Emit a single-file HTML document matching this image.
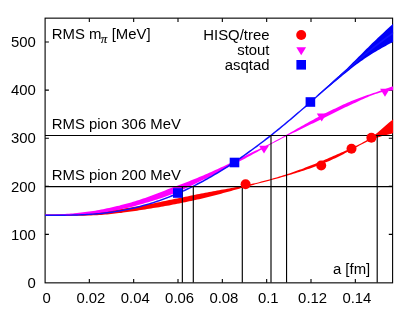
<!DOCTYPE html>
<html><head><meta charset="utf-8"><title>RMS pion mass</title>
<style>html,body{margin:0;padding:0;background:#fff;}body{width:415px;height:313px;overflow:hidden;position:relative;font-family:"Liberation Sans",sans-serif;}</style></head>
<body>
<svg width="415" height="313" viewBox="0 0 415 313" style="position:absolute;left:0;top:0;will-change:transform">
<rect width="415" height="313" fill="#fff"/>
<defs><clipPath id="c"><rect x="45" y="18" width="348.2" height="264.5"/></clipPath></defs>
<g stroke="#000" stroke-width="1.1" fill="none">
<rect x="45.1" y="18.15" width="347.5" height="264.7"/>
<path d="M89.33,282.85v-3.8M89.33,18.15v3.8M133.67,282.85v-3.8M133.67,18.15v3.8M178.00,282.85v-3.8M178.00,18.15v3.8M222.34,282.85v-3.8M222.34,18.15v3.8M266.67,282.85v-3.8M266.67,18.15v3.8M311.00,282.85v-3.8M311.00,18.15v3.8M355.34,282.85v-3.8M355.34,18.15v3.8M45.1,234.40h3.8M392.6,234.40h-3.8M45.1,186.30h3.8M392.6,186.30h-3.8M45.1,138.20h3.8M392.6,138.20h-3.8M45.1,90.10h3.8M392.6,90.10h-3.8M45.1,42.00h3.8M392.6,42.00h-3.8"/>
</g>
<g clip-path="url(#c)">
<path d="M45.0,214.58 L47.0,214.57 L49.0,214.56 L51.0,214.54 L53.0,214.51 L55.0,214.48 L57.0,214.45 L59.0,214.40 L61.0,214.36 L63.0,214.30 L65.0,214.24 L67.0,214.17 L69.0,214.09 L71.0,214.00 L73.0,213.90 L75.0,213.79 L77.0,213.67 L79.0,213.54 L81.0,213.40 L83.0,213.24 L85.0,213.08 L87.0,212.90 L89.1,212.71 L91.1,212.52 L93.1,212.31 L95.1,212.10 L97.1,211.89 L99.1,211.67 L101.1,211.44 L103.1,211.21 L105.1,210.98 L107.1,210.74 L109.1,210.50 L111.1,210.25 L113.1,210.00 L115.1,209.74 L117.1,209.47 L119.1,209.19 L121.1,208.91 L123.1,208.63 L125.1,208.33 L127.1,208.03 L129.1,207.72 L131.1,207.40 L133.1,207.08 L135.1,206.75 L137.1,206.41 L139.1,206.07 L141.1,205.72 L143.1,205.36 L145.1,204.99 L147.1,204.61 L149.1,204.23 L151.1,203.83 L153.1,203.43 L155.1,203.02 L157.1,202.60 L159.1,202.18 L161.1,201.75 L163.1,201.33 L165.1,200.91 L167.1,200.49 L169.1,200.07 L171.1,199.66 L173.1,199.25 L175.1,198.84 L177.2,198.43 L179.2,198.03 L181.2,197.62 L183.2,197.21 L185.2,196.79 L187.2,196.38 L189.2,195.97 L191.2,195.56 L193.2,195.14 L195.2,194.73 L197.2,194.33 L199.2,193.93 L201.2,193.53 L203.2,193.14 L205.2,192.76 L207.2,192.38 L209.2,192.01 L211.2,191.65 L213.2,191.29 L215.2,190.93 L217.2,190.58 L219.2,190.22 L221.2,189.87 L223.2,189.51 L225.2,189.16 L227.2,188.80 L229.2,188.45 L231.2,188.09 L233.2,187.74 L235.2,187.37 L237.2,187.01 L239.2,186.64 L241.2,186.25 L243.2,185.85 L245.2,185.44 L247.2,185.01 L249.2,184.56 L251.2,184.10 L253.2,183.62 L255.2,183.14 L257.2,182.64 L259.2,182.14 L261.2,181.62 L263.3,181.10 L265.3,180.57 L267.3,180.04 L269.3,179.49 L271.3,178.94 L273.3,178.37 L275.3,177.79 L277.3,177.21 L279.3,176.61 L281.3,176.00 L283.3,175.37 L285.3,174.73 L287.3,174.08 L289.3,173.41 L291.3,172.73 L293.3,172.03 L295.3,171.32 L297.3,170.60 L299.3,169.87 L301.3,169.13 L303.3,168.38 L305.3,167.62 L307.3,166.85 L309.3,166.08 L311.3,165.29 L313.3,164.50 L315.3,163.69 L317.3,162.88 L319.3,162.05 L321.3,161.22 L323.3,160.38 L325.3,159.52 L327.3,158.66 L329.3,157.79 L331.3,156.92 L333.3,156.05 L335.3,155.17 L337.3,154.30 L339.3,153.44 L341.3,152.58 L343.3,151.71 L345.3,150.85 L347.3,149.97 L349.3,149.08 L351.4,148.16 L353.4,147.22 L355.4,146.25 L357.4,145.25 L359.4,144.22 L361.4,143.16 L363.4,142.06 L365.4,140.92 L367.4,139.73 L369.4,138.47 L371.4,137.14 L373.4,135.73 L375.4,134.24 L377.4,132.67 L379.4,131.04 L381.4,129.34 L383.4,127.61 L385.4,125.85 L387.4,124.09 L389.4,122.36 L391.4,120.69 L393.4,119.11 L393.4,133.10 L391.4,133.76 L389.4,134.34 L387.4,134.86 L385.4,135.35 L383.4,135.85 L381.4,136.36 L379.4,136.91 L377.4,137.51 L375.4,138.18 L373.4,138.91 L371.4,139.71 L369.4,140.57 L367.4,141.50 L365.4,142.47 L363.4,143.48 L361.4,144.52 L359.4,145.57 L357.4,146.63 L355.4,147.70 L353.4,148.78 L351.4,149.87 L349.3,150.95 L347.3,152.04 L345.3,153.12 L343.3,154.18 L341.3,155.22 L339.3,156.24 L337.3,157.23 L335.3,158.19 L333.3,159.11 L331.3,160.02 L329.3,160.89 L327.3,161.75 L325.3,162.58 L323.3,163.40 L321.3,164.20 L319.3,164.99 L317.3,165.75 L315.3,166.51 L313.3,167.25 L311.3,167.97 L309.3,168.67 L307.3,169.37 L305.3,170.05 L303.3,170.71 L301.3,171.36 L299.3,172.00 L297.3,172.62 L295.3,173.23 L293.3,173.83 L291.3,174.43 L289.3,175.01 L287.3,175.60 L285.3,176.17 L283.3,176.75 L281.3,177.32 L279.3,177.89 L277.3,178.45 L275.3,179.01 L273.3,179.57 L271.3,180.12 L269.3,180.66 L267.3,181.20 L265.3,181.74 L263.3,182.27 L261.2,182.80 L259.2,183.32 L257.2,183.84 L255.2,184.36 L253.2,184.88 L251.2,185.40 L249.2,185.92 L247.2,186.45 L245.2,186.98 L243.2,187.53 L241.2,188.08 L239.2,188.64 L237.2,189.21 L235.2,189.77 L233.2,190.34 L231.2,190.90 L229.2,191.46 L227.2,192.01 L225.2,192.56 L223.2,193.10 L221.2,193.64 L219.2,194.18 L217.2,194.71 L215.2,195.23 L213.2,195.76 L211.2,196.27 L209.2,196.78 L207.2,197.28 L205.2,197.77 L203.2,198.24 L201.2,198.71 L199.2,199.17 L197.2,199.62 L195.2,200.06 L193.2,200.50 L191.2,200.93 L189.2,201.35 L187.2,201.77 L185.2,202.19 L183.2,202.60 L181.2,203.01 L179.2,203.42 L177.2,203.83 L175.1,204.23 L173.1,204.62 L171.1,205.01 L169.1,205.38 L167.1,205.75 L165.1,206.11 L163.1,206.46 L161.1,206.80 L159.1,207.13 L157.1,207.46 L155.1,207.79 L153.1,208.11 L151.1,208.43 L149.1,208.75 L147.1,209.07 L145.1,209.39 L143.1,209.71 L141.1,210.02 L139.1,210.33 L137.1,210.64 L135.1,210.94 L133.1,211.23 L131.1,211.53 L129.1,211.81 L127.1,212.09 L125.1,212.36 L123.1,212.62 L121.1,212.88 L119.1,213.12 L117.1,213.36 L115.1,213.59 L113.1,213.81 L111.1,214.02 L109.1,214.21 L107.1,214.40 L105.1,214.57 L103.1,214.74 L101.1,214.88 L99.1,215.02 L97.1,215.14 L95.1,215.25 L93.1,215.35 L91.1,215.43 L89.1,215.50 L87.0,215.57 L85.0,215.63 L83.0,215.68 L81.0,215.72 L79.0,215.76 L77.0,215.80 L75.0,215.83 L73.0,215.85 L71.0,215.88 L69.0,215.89 L67.0,215.90 L65.0,215.91 L63.0,215.91 L61.0,215.91 L59.0,215.90 L57.0,215.89 L55.0,215.88 L53.0,215.87 L51.0,215.86 L49.0,215.84 L47.0,215.83 L45.0,215.82Z" fill="#ff0000"/>
<path d="M45.0,214.58 L47.0,214.56 L49.0,214.54 L51.0,214.51 L53.0,214.46 L55.0,214.41 L57.0,214.34 L59.0,214.27 L61.0,214.18 L63.0,214.08 L65.0,213.97 L67.0,213.85 L69.0,213.71 L71.0,213.56 L73.0,213.40 L75.0,213.23 L77.0,213.04 L79.0,212.83 L81.0,212.61 L83.0,212.37 L85.0,212.12 L87.0,211.85 L89.1,211.57 L91.1,211.27 L93.1,210.95 L95.1,210.63 L97.1,210.28 L99.1,209.93 L101.1,209.56 L103.1,209.18 L105.1,208.78 L107.1,208.37 L109.1,207.95 L111.1,207.51 L113.1,207.06 L115.1,206.60 L117.1,206.12 L119.1,205.63 L121.1,205.12 L123.1,204.60 L125.1,204.07 L127.1,203.52 L129.1,202.96 L131.1,202.38 L133.1,201.79 L135.1,201.18 L137.1,200.56 L139.1,199.93 L141.1,199.28 L143.1,198.61 L145.1,197.94 L147.1,197.24 L149.1,196.53 L151.1,195.80 L153.1,195.06 L155.1,194.30 L157.1,193.53 L159.1,192.75 L161.1,191.96 L163.1,191.17 L165.1,190.38 L167.1,189.59 L169.1,188.80 L171.1,188.02 L173.1,187.25 L175.1,186.48 L177.2,185.72 L179.2,184.96 L181.2,184.20 L183.2,183.44 L185.2,182.67 L187.2,181.90 L189.2,181.13 L191.2,180.34 L193.2,179.55 L195.2,178.74 L197.2,177.93 L199.2,177.09 L201.2,176.25 L203.2,175.40 L205.2,174.53 L207.2,173.66 L209.2,172.78 L211.2,171.89 L213.2,170.99 L215.2,170.08 L217.2,169.17 L219.2,168.25 L221.2,167.32 L223.2,166.39 L225.2,165.45 L227.2,164.51 L229.2,163.56 L231.2,162.61 L233.2,161.65 L235.2,160.68 L237.2,159.71 L239.2,158.74 L241.2,157.76 L243.2,156.78 L245.2,155.79 L247.2,154.81 L249.2,153.82 L251.2,152.83 L253.2,151.84 L255.2,150.86 L257.2,149.88 L259.2,148.90 L261.2,147.92 L263.3,146.95 L265.3,145.96 L267.3,144.97 L269.3,143.97 L271.3,142.95 L273.3,141.91 L275.3,140.86 L277.3,139.79 L279.3,138.72 L281.3,137.63 L283.3,136.53 L285.3,135.42 L287.3,134.30 L289.3,133.18 L291.3,132.04 L293.3,130.90 L295.3,129.75 L297.3,128.61 L299.3,127.46 L301.3,126.32 L303.3,125.18 L305.3,124.05 L307.3,122.93 L309.3,121.82 L311.3,120.72 L313.3,119.63 L315.3,118.55 L317.3,117.48 L319.3,116.43 L321.3,115.39 L323.3,114.36 L325.3,113.35 L327.3,112.34 L329.3,111.34 L331.3,110.34 L333.3,109.36 L335.3,108.39 L337.3,107.42 L339.3,106.47 L341.3,105.53 L343.3,104.60 L345.3,103.69 L347.3,102.80 L349.3,101.92 L351.4,101.07 L353.4,100.24 L355.4,99.44 L357.4,98.66 L359.4,97.91 L361.4,97.18 L363.4,96.48 L365.4,95.79 L367.4,95.12 L369.4,94.45 L371.4,93.79 L373.4,93.12 L375.4,92.46 L377.4,91.78 L379.4,91.08 L381.4,90.37 L383.4,89.64 L385.4,88.91 L387.4,88.18 L389.4,87.49 L391.4,86.83 L393.4,86.24 L393.4,90.17 L391.4,90.46 L389.4,90.76 L387.4,91.07 L385.4,91.43 L383.4,91.83 L381.4,92.28 L379.4,92.81 L377.4,93.41 L375.4,94.06 L373.4,94.78 L371.4,95.54 L369.4,96.35 L367.4,97.19 L365.4,98.06 L363.4,98.96 L361.4,99.87 L359.4,100.79 L357.4,101.72 L355.4,102.66 L353.4,103.60 L351.4,104.54 L349.3,105.48 L347.3,106.42 L345.3,107.37 L343.3,108.32 L341.3,109.27 L339.3,110.24 L337.3,111.20 L335.3,112.18 L333.3,113.16 L331.3,114.14 L329.3,115.13 L327.3,116.13 L325.3,117.13 L323.3,118.14 L321.3,119.14 L319.3,120.14 L317.3,121.14 L315.3,122.14 L313.3,123.13 L311.3,124.12 L309.3,125.10 L307.3,126.08 L305.3,127.05 L303.3,128.02 L301.3,128.99 L299.3,129.95 L297.3,130.92 L295.3,131.89 L293.3,132.86 L291.3,133.83 L289.3,134.82 L287.3,135.81 L285.3,136.81 L283.3,137.83 L281.3,138.85 L279.3,139.88 L277.3,140.92 L275.3,141.98 L273.3,143.04 L271.3,144.12 L269.3,145.21 L267.3,146.31 L265.3,147.42 L263.3,148.54 L261.2,149.66 L259.2,150.78 L257.2,151.89 L255.2,152.99 L253.2,154.09 L251.2,155.17 L249.2,156.25 L247.2,157.32 L245.2,158.39 L243.2,159.45 L241.2,160.51 L239.2,161.56 L237.2,162.62 L235.2,163.66 L233.2,164.71 L231.2,165.75 L229.2,166.79 L227.2,167.82 L225.2,168.85 L223.2,169.87 L221.2,170.89 L219.2,171.91 L217.2,172.92 L215.2,173.92 L213.2,174.92 L211.2,175.92 L209.2,176.91 L207.2,177.89 L205.2,178.88 L203.2,179.85 L201.2,180.83 L199.2,181.80 L197.2,182.77 L195.2,183.73 L193.2,184.70 L191.2,185.66 L189.2,186.61 L187.2,187.55 L185.2,188.49 L183.2,189.41 L181.2,190.32 L179.2,191.21 L177.2,192.08 L175.1,192.93 L173.1,193.75 L171.1,194.55 L169.1,195.32 L167.1,196.07 L165.1,196.79 L163.1,197.49 L161.1,198.17 L159.1,198.83 L157.1,199.47 L155.1,200.10 L153.1,200.72 L151.1,201.33 L149.1,201.93 L147.1,202.52 L145.1,203.11 L143.1,203.69 L141.1,204.25 L139.1,204.81 L137.1,205.35 L135.1,205.88 L133.1,206.40 L131.1,206.91 L129.1,207.40 L127.1,207.88 L125.1,208.35 L123.1,208.80 L121.1,209.24 L119.1,209.66 L117.1,210.07 L115.1,210.47 L113.1,210.85 L111.1,211.21 L109.1,211.56 L107.1,211.90 L105.1,212.22 L103.1,212.52 L101.1,212.81 L99.1,213.08 L97.1,213.33 L95.1,213.57 L93.1,213.80 L91.1,214.01 L89.1,214.21 L87.0,214.39 L85.0,214.56 L83.0,214.72 L81.0,214.87 L79.0,215.01 L77.0,215.13 L75.0,215.25 L73.0,215.35 L71.0,215.44 L69.0,215.52 L67.0,215.60 L65.0,215.66 L63.0,215.71 L61.0,215.75 L59.0,215.78 L57.0,215.81 L55.0,215.82 L53.0,215.83 L51.0,215.84 L49.0,215.84 L47.0,215.83 L45.0,215.82Z" fill="#ff00ff"/>
<path d="M318.0,94.60 L319.9,92.89 L321.9,91.17 L323.8,89.45 L325.7,87.72 L327.7,85.99 L329.6,84.26 L331.5,82.52 L333.5,80.78 L335.4,79.05 L337.3,77.32 L339.3,75.59 L341.2,73.83 L343.1,72.05 L345.1,70.24 L347.0,68.38 L348.9,66.48 L350.9,64.56 L352.8,62.62 L354.7,60.67 L356.7,58.73 L358.6,56.80 L360.5,54.88 L362.5,52.95 L364.4,51.02 L366.3,49.09 L368.3,47.17 L370.2,45.26 L372.1,43.37 L374.1,41.49 L376.0,39.65 L377.9,37.81 L379.9,35.99 L381.8,34.18 L383.7,32.38 L385.7,30.60 L387.6,28.83 L389.5,27.07 L391.5,25.33 L393.4,23.60 L393.4,41.90 L391.5,42.86 L389.5,43.84 L387.6,44.85 L385.7,45.89 L383.7,46.95 L381.8,48.03 L379.9,49.13 L377.9,50.26 L376.0,51.40 L374.1,52.57 L372.1,53.76 L370.2,54.98 L368.3,56.23 L366.3,57.51 L364.4,58.81 L362.5,60.14 L360.5,61.50 L358.6,62.89 L356.7,64.32 L354.7,65.80 L352.8,67.32 L350.9,68.86 L348.9,70.42 L347.0,71.99 L345.1,73.55 L343.1,75.11 L341.2,76.70 L339.3,78.31 L337.3,79.91 L335.4,81.52 L333.5,83.11 L331.5,84.68 L329.6,86.23 L327.7,87.78 L325.7,89.32 L323.8,90.85 L321.9,92.38 L319.9,93.89 L318.0,95.40Z" fill="#0000f6"/>
<path d="M45.0,214.50 L47.0,214.50 L49.0,214.50 L51.0,214.51 L53.0,214.51 L55.0,214.51 L57.0,214.51 L59.0,214.51 L61.0,214.51 L63.0,214.50 L65.0,214.48 L67.0,214.46 L69.0,214.43 L71.0,214.40 L73.0,214.36 L75.0,214.31 L77.0,214.25 L79.0,214.19 L81.0,214.11 L83.0,214.02 L85.0,213.92 L87.0,213.81 L89.1,213.69 L91.1,213.56 L93.1,213.42 L95.1,213.26 L97.1,213.09 L99.1,212.90 L101.1,212.70 L103.1,212.49 L105.1,212.26 L107.1,212.02 L109.1,211.76 L111.1,211.49 L113.1,211.20 L115.1,210.89 L117.1,210.57 L119.1,210.24 L121.1,209.88 L123.1,209.51 L125.1,209.13 L127.1,208.72 L129.1,208.30 L131.1,207.87 L133.1,207.41 L135.1,206.94 L137.1,206.45 L139.1,205.94 L141.1,205.42 L143.1,204.87 L145.1,204.31 L147.1,203.73 L149.1,203.14 L151.1,202.52 L153.1,201.89 L155.1,201.24 L157.1,200.57 L159.1,199.88 L161.1,199.18 L163.1,198.45 L165.1,197.71 L167.1,196.95 L169.1,196.17 L171.1,195.37 L173.1,194.56 L175.1,193.72 L177.2,192.87 L179.2,192.00 L181.2,191.11 L183.2,190.21 L185.2,189.28 L187.2,188.34 L189.2,187.38 L191.2,186.41 L193.2,185.41 L195.2,184.40 L197.2,183.37 L199.2,182.33 L201.2,181.26 L203.2,180.18 L205.2,179.08 L207.2,177.97 L209.2,176.84 L211.2,175.69 L213.2,174.52 L215.2,173.34 L217.2,172.14 L219.2,170.93 L221.2,169.70 L223.2,168.45 L225.2,167.19 L227.2,165.91 L229.2,164.62 L231.2,163.31 L233.2,161.99 L235.2,160.65 L237.2,159.30 L239.2,157.93 L241.2,156.54 L243.2,155.15 L245.2,153.73 L247.2,152.31 L249.2,150.87 L251.2,149.41 L253.2,147.94 L255.2,146.46 L257.2,144.97 L259.2,143.46 L261.2,141.94 L263.3,140.40 L265.3,138.86 L267.3,137.30 L269.3,135.73 L271.3,134.14 L273.3,132.55 L275.3,130.94 L277.3,129.32 L279.3,127.70 L281.3,126.06 L283.3,124.41 L285.3,122.75 L287.3,121.08 L289.3,119.40 L291.3,117.71 L293.3,116.01 L295.3,114.31 L297.3,112.60 L299.3,110.88 L301.3,109.15 L303.3,107.41 L305.3,105.67 L307.3,103.92 L309.3,102.17 L311.3,100.41 L313.3,98.65 L315.3,96.88 L317.3,95.11 L319.3,93.34 L321.3,91.56 L323.3,89.78 L325.3,88.00 L327.3,86.22 L329.3,84.43 L331.3,82.65 L333.3,80.87 L335.3,79.09 L337.3,77.32 L339.3,75.54 L341.3,73.77 L343.3,72.00 L345.3,70.24 L347.3,68.49 L349.3,66.74 L351.4,65.00 L353.4,63.27 L355.4,61.54 L357.4,59.83 L359.4,58.13 L361.4,56.44 L363.4,54.76 L365.4,53.10 L367.4,51.45 L369.4,49.82 L371.4,48.21 L373.4,46.62 L375.4,45.04 L377.4,43.49 L379.4,41.96 L381.4,40.45 L383.4,38.97 L385.4,37.52 L387.4,36.09 L389.4,34.69 L391.4,33.32 L393.4,31.99 L393.4,33.99 L391.4,35.32 L389.4,36.69 L387.4,38.09 L385.4,39.51 L383.4,40.97 L381.4,42.45 L379.4,43.96 L377.4,45.49 L375.4,47.04 L373.4,48.61 L371.4,50.21 L369.4,51.82 L367.4,53.45 L365.4,55.10 L363.4,56.76 L361.4,58.43 L359.4,60.12 L357.4,61.82 L355.4,63.53 L353.4,65.26 L351.4,66.99 L349.3,68.73 L347.3,70.47 L345.3,72.23 L343.3,73.99 L341.3,75.75 L339.3,77.52 L337.3,79.30 L335.3,81.07 L333.3,82.85 L331.3,84.63 L329.3,86.41 L327.3,88.19 L325.3,89.97 L323.3,91.75 L321.3,93.53 L319.3,95.31 L317.3,97.08 L315.3,98.85 L313.3,100.61 L311.3,102.38 L309.3,104.13 L307.3,105.88 L305.3,107.63 L303.3,109.37 L301.3,111.10 L299.3,112.83 L297.3,114.55 L295.3,116.26 L293.3,117.96 L291.3,119.66 L289.3,121.34 L287.3,123.02 L285.3,124.69 L283.3,126.34 L281.3,127.99 L279.3,129.63 L277.3,131.26 L275.3,132.87 L273.3,134.48 L271.3,136.07 L269.3,137.65 L267.3,139.22 L265.3,140.78 L263.3,142.32 L261.2,143.85 L259.2,145.37 L257.2,146.88 L255.2,148.37 L253.2,149.85 L251.2,151.31 L249.2,152.76 L247.2,154.20 L245.2,155.62 L243.2,157.03 L241.2,158.42 L239.2,159.80 L237.2,161.17 L235.2,162.51 L233.2,163.85 L231.2,165.16 L229.2,166.46 L227.2,167.75 L225.2,169.02 L223.2,170.27 L221.2,171.51 L219.2,172.73 L217.2,173.93 L215.2,175.12 L213.2,176.29 L211.2,177.45 L209.2,178.59 L207.2,179.71 L205.2,180.81 L203.2,181.90 L201.2,182.97 L199.2,184.02 L197.2,185.06 L195.2,186.08 L193.2,187.08 L191.2,188.06 L189.2,189.03 L187.2,189.98 L185.2,190.91 L183.2,191.82 L181.2,192.72 L179.2,193.60 L177.2,194.46 L175.1,195.30 L173.1,196.13 L171.1,196.93 L169.1,197.72 L167.1,198.50 L165.1,199.25 L163.1,199.99 L161.1,200.70 L159.1,201.40 L157.1,202.09 L155.1,202.75 L153.1,203.40 L151.1,204.03 L149.1,204.64 L147.1,205.23 L145.1,205.81 L143.1,206.36 L141.1,206.90 L139.1,207.42 L137.1,207.93 L135.1,208.42 L133.1,208.89 L131.1,209.34 L129.1,209.77 L127.1,210.19 L125.1,210.59 L123.1,210.97 L121.1,211.34 L119.1,211.69 L117.1,212.03 L115.1,212.34 L113.1,212.65 L111.1,212.93 L109.1,213.20 L107.1,213.46 L105.1,213.70 L103.1,213.92 L101.1,214.14 L99.1,214.33 L97.1,214.52 L95.1,214.68 L93.1,214.84 L91.1,214.98 L89.1,215.12 L87.0,215.23 L85.0,215.34 L83.0,215.44 L81.0,215.52 L79.0,215.60 L77.0,215.67 L75.0,215.72 L73.0,215.77 L71.0,215.81 L69.0,215.84 L67.0,215.87 L65.0,215.89 L63.0,215.90 L61.0,215.91 L59.0,215.91 L57.0,215.92 L55.0,215.91 L53.0,215.91 L51.0,215.91 L49.0,215.90 L47.0,215.90 L45.0,215.90Z" fill="#1010ff"/>
</g>
<g stroke="#000" stroke-width="1.15" fill="none">
<path d="M45,135.5H392.5M45,186.6H392.5"/>
<path d="M182.35,186.5V282.5"/>
<path d="M193.3,186.5V282.5"/>
<path d="M242.3,186.5V282.5"/>
<path d="M271.0,135.5V282.5"/>
<path d="M286.55,135.5V282.5"/>
<path d="M377.2,135.5V282.5"/>
</g>
<circle cx="245.6" cy="184.2" r="5" fill="#ff0000"/>
<circle cx="321.2" cy="165.5" r="5" fill="#ff0000"/>
<circle cx="351.5" cy="148.75" r="5" fill="#ff0000"/>
<circle cx="371.4" cy="137.8" r="5" fill="#ff0000"/>
<circle cx="301.2" cy="35" r="5" fill="#ff0000"/>
<path d="M259.1,145.65h9.8l-4.9,7.95z" fill="#ff00ff"/>
<path d="M316.8,113.44999999999999h9.8l-4.9,7.95z" fill="#ff00ff"/>
<path d="M380.1,88.85h9.8l-4.9,7.95z" fill="#ff00ff"/>
<path d="M296.3,47.35h9.8l-4.9,7.95z" fill="#ff00ff"/>
<rect x="173.0" y="188.2" width="9.6" height="9.6" fill="#0000ff"/>
<rect x="229.7" y="157.7" width="9.6" height="9.6" fill="#0000ff"/>
<rect x="305.59999999999997" y="97.2" width="9.6" height="9.6" fill="#0000ff"/>
<rect x="296.4" y="60.0" width="9.6" height="9.6" fill="#0000ff"/>
<g font-family="Liberation Sans, sans-serif" font-size="14.9" fill="#000">
<text x="35.8" y="287.7" text-anchor="end">0</text>
<text x="35.8" y="239.6" text-anchor="end">100</text>
<text x="35.8" y="191.5" text-anchor="end">200</text>
<text x="35.8" y="143.4" text-anchor="end">300</text>
<text x="35.8" y="95.3" text-anchor="end">400</text>
<text x="35.8" y="47.2" text-anchor="end">500</text>
<text x="46.6" y="302.8" text-anchor="middle">0</text>
<text x="90.9" y="302.8" text-anchor="middle">0.02</text>
<text x="135.3" y="302.8" text-anchor="middle">0.04</text>
<text x="179.6" y="302.8" text-anchor="middle">0.06</text>
<text x="223.9" y="302.8" text-anchor="middle">0.08</text>
<text x="268.3" y="302.8" text-anchor="middle">0.1</text>
<text x="312.6" y="302.8" text-anchor="middle">0.12</text>
<text x="356.9" y="302.8" text-anchor="middle">0.14</text>
<text x="51.8" y="38.6">RMS m<tspan dx="-0.5" dy="4.2" font-size="12.2" font-style="italic" font-family="Liberation Serif, serif" stroke="#000" stroke-width="0.2">π</tspan><tspan dy="-4.2" dx="0.5"> [MeV]</tspan></text>
<text x="51.8" y="128.6">RMS pion 306 MeV</text>
<text x="51.8" y="179.6">RMS pion 200 MeV</text>
<text x="370.2" y="273.6" text-anchor="end">a [fm]</text>
<text x="269.5" y="39.7" text-anchor="end">HISQ/tree</text>
<text x="269.5" y="54.7" text-anchor="end">stout</text>
<text x="269.5" y="69.5" text-anchor="end">asqtad</text>
</g>
</svg>
</body></html>
